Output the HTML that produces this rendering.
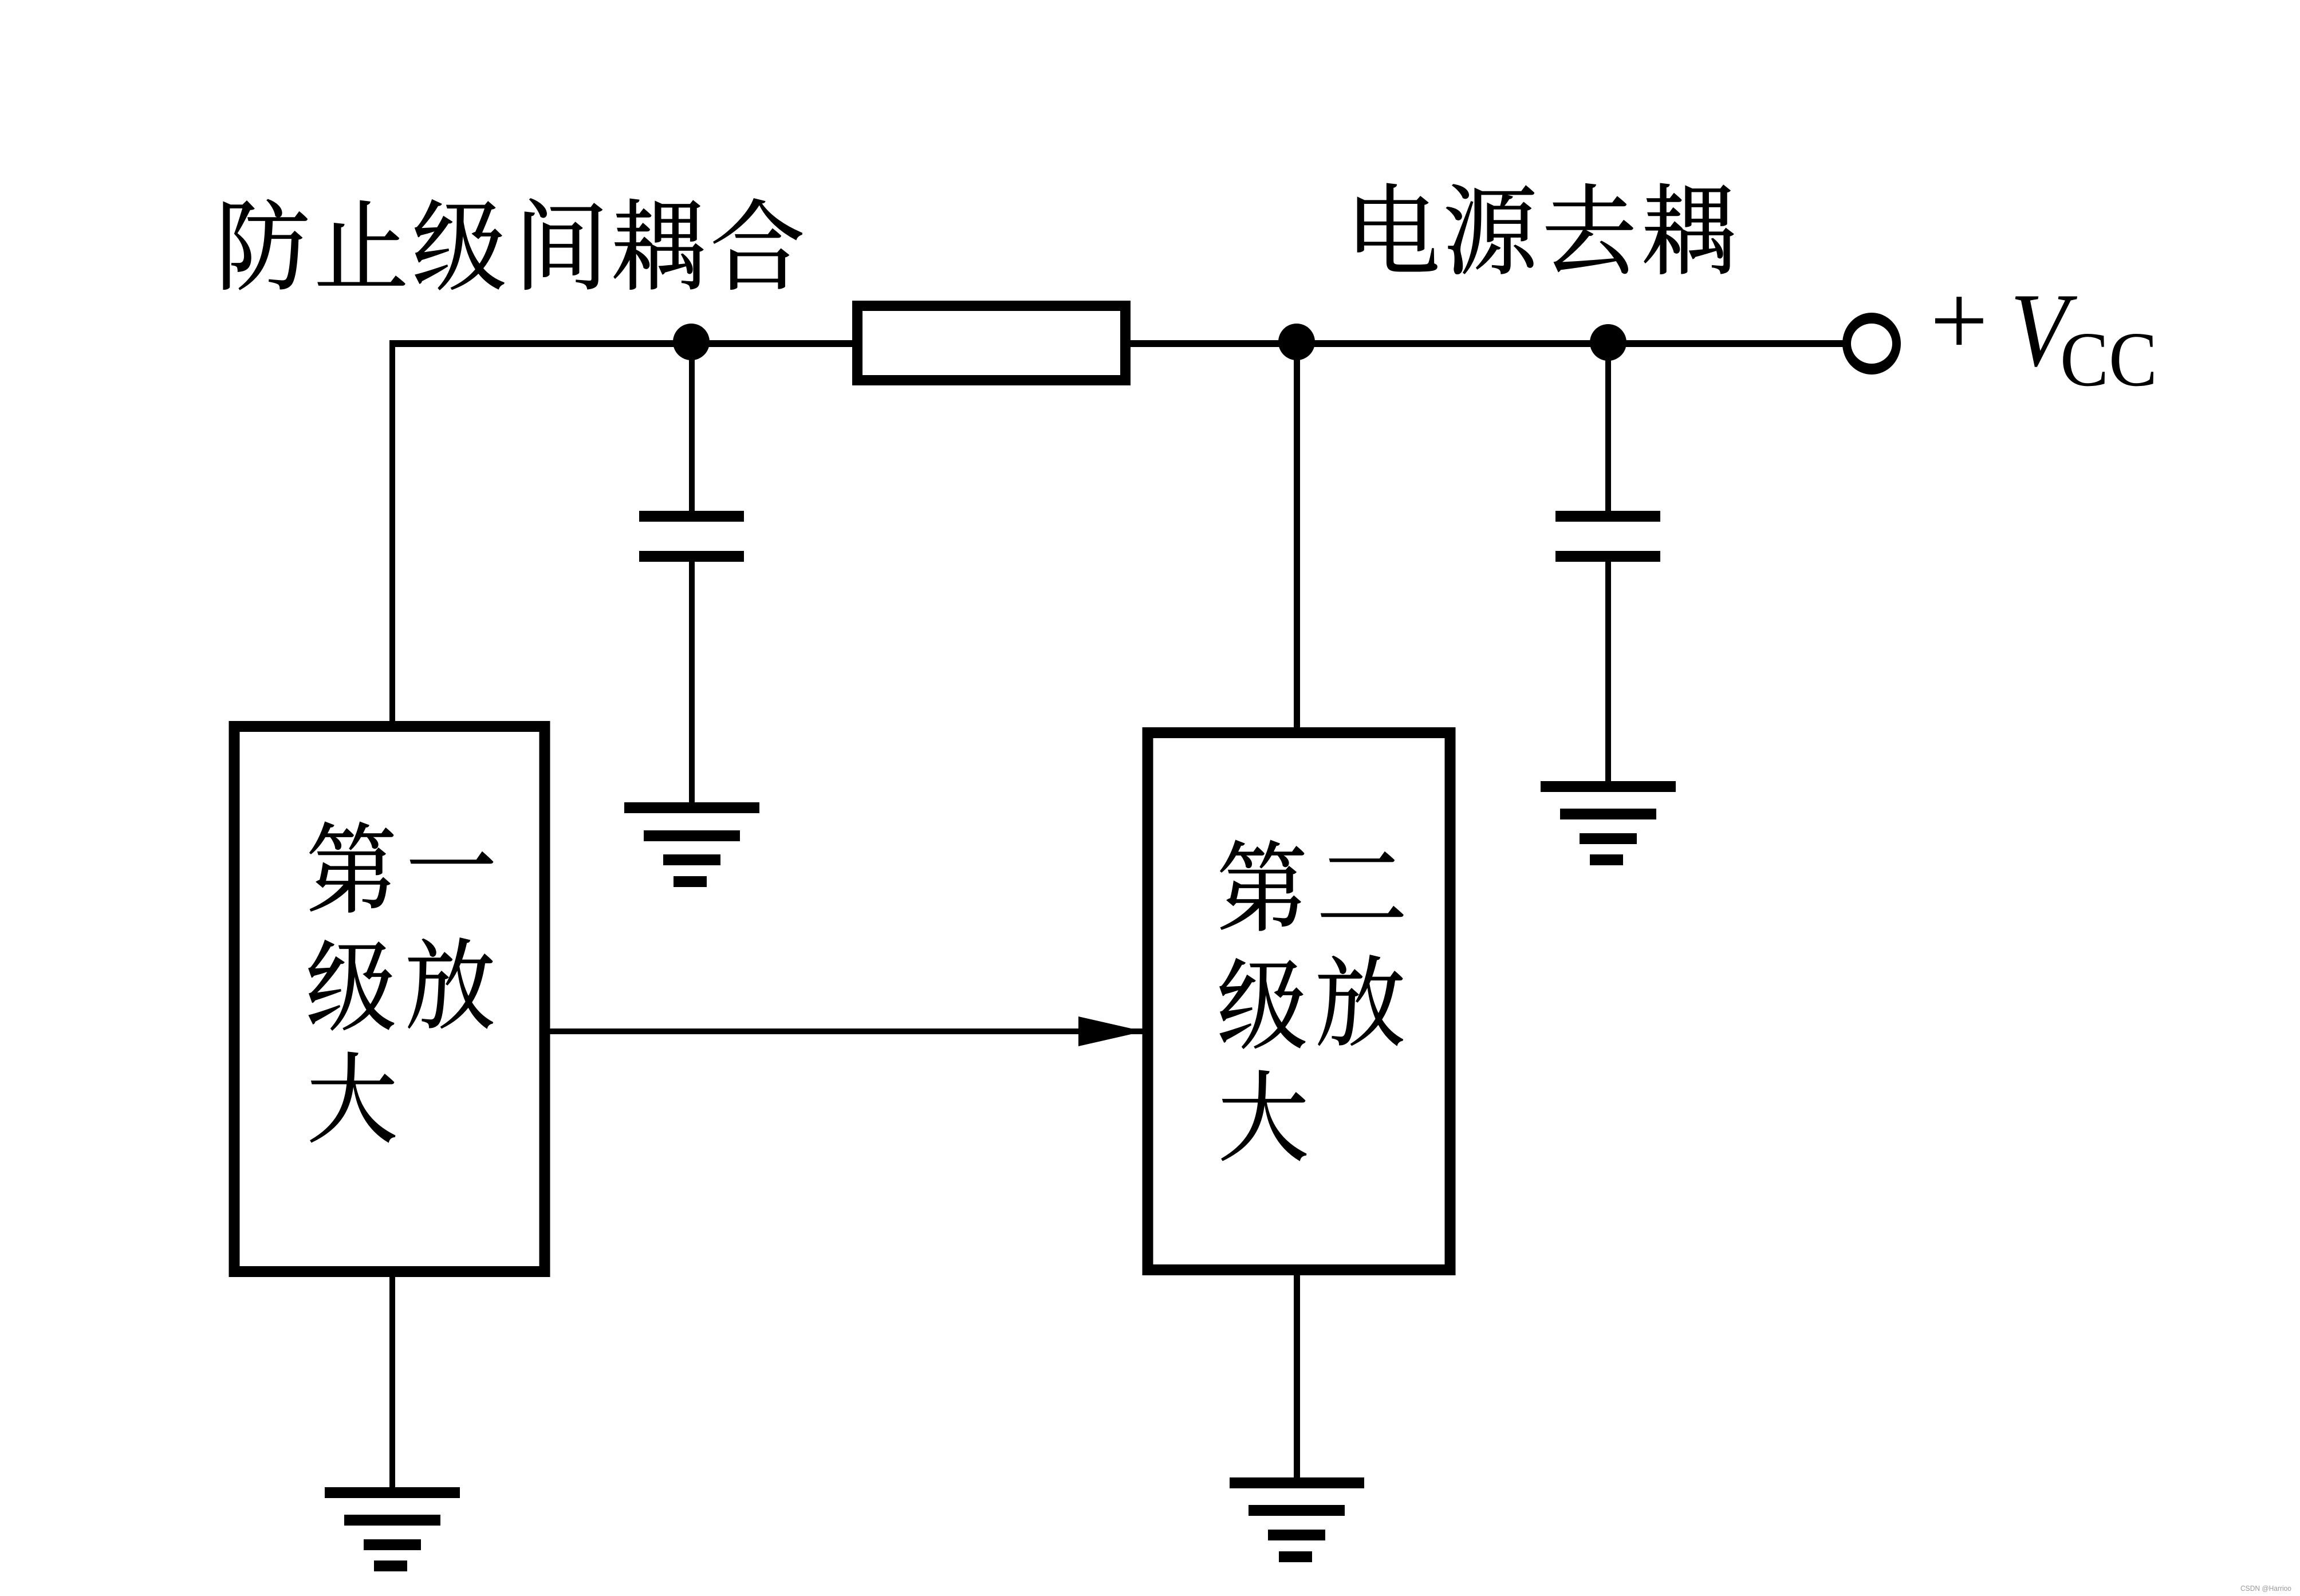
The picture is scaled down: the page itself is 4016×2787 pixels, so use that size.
<!DOCTYPE html>
<html lang="zh">
<head>
<meta charset="utf-8">
<title>电源去耦与防止级间耦合电路</title>
<style>
html,body{margin:0;padding:0;background:#fff;width:4016px;height:2787px;overflow:hidden}
svg{display:block}
.c{font-family:"Liberation Serif","Noto Serif CJK SC",serif;font-size:172px;fill:#000;stroke:#000;stroke-width:1.5px;text-anchor:middle}
</style>
</head>
<body>
<svg xmlns="http://www.w3.org/2000/svg" width="4016" height="2787" viewBox="0 0 4016 2787">
<rect width="4016" height="2787" fill="#fff"/>

<!-- wires -->
<g fill="#000">
<rect x="680" y="594" width="2590" height="12"/>
<rect x="680" y="594" width="10" height="670"/>
<rect x="1203" y="597" width="10" height="300"/>
<rect x="1203" y="975" width="10" height="430"/>
<rect x="2259" y="597" width="11" height="680"/>
<rect x="2803" y="597" width="10" height="300"/>
<rect x="2803" y="975" width="10" height="395"/>
<rect x="680" y="2225" width="10" height="376"/>
<rect x="2259" y="2222" width="11" height="362"/>
<rect x="955" y="1796" width="1045" height="10"/>
<path d="M1883 1775 L1997 1801 L1883 1827 Z"/>
</g>

<!-- resistor -->
<rect x="1497" y="534" width="468" height="130" fill="#fff" stroke="#000" stroke-width="18"/>

<!-- junction dots -->
<g fill="#000">
<circle cx="1207" cy="597" r="32"/>
<circle cx="2264" cy="597" r="32"/>
<circle cx="2808" cy="598" r="32"/>
</g>

<!-- terminal -->
<ellipse cx="3268" cy="600" rx="51" ry="54" fill="#000"/>
<ellipse cx="3268" cy="600" rx="36" ry="35" fill="#fff"/>

<!-- capacitor plates -->
<g fill="#000">
<rect x="1116" y="892" width="183" height="19"/>
<rect x="1116" y="962" width="183" height="19"/>
<rect x="2716" y="892" width="183" height="19"/>
<rect x="2716" y="962" width="183" height="19"/>
</g>

<!-- grounds -->
<g fill="#000">
<rect x="1090" y="1401" width="236" height="19"/>
<rect x="1124" y="1450" width="168" height="19"/>
<rect x="1158" y="1492" width="100" height="19"/>
<rect x="1176" y="1530" width="58" height="19"/>

<rect x="2690" y="1364" width="236" height="19"/>
<rect x="2724" y="1412" width="168" height="19"/>
<rect x="2758" y="1455" width="100" height="19"/>
<rect x="2776" y="1492" width="58" height="19"/>

<rect x="567" y="2597" width="236" height="19"/>
<rect x="601" y="2645" width="168" height="19"/>
<rect x="635" y="2688" width="100" height="19"/>
<rect x="653" y="2725" width="58" height="19"/>

<rect x="2147" y="2580" width="235" height="19"/>
<rect x="2180" y="2628" width="168" height="19"/>
<rect x="2214" y="2671" width="100" height="19"/>
<rect x="2233" y="2709" width="58" height="19"/>
</g>

<!-- amplifier boxes -->
<rect x="409" y="1268.500" width="542" height="952" fill="#fff" stroke="#000" stroke-width="19"/>
<rect x="2004" y="1279.500" width="528" height="938" fill="#fff" stroke="#000" stroke-width="19"/>

<!-- labels -->
<g>
<text class="c" transform="translate(459,492) scale(.96,1)">防</text>
<text class="c" transform="translate(631,492) scale(.96,1)">止</text>
<text class="c" transform="translate(802,492) scale(.96,1)">级</text>
<text class="c" transform="translate(980,492) scale(.96,1)">间</text>
<text class="c" transform="translate(1150,492) scale(.96,1)">耦</text>
<text class="c" transform="translate(1323,492) scale(.96,1)">合</text>

<text class="c" transform="translate(2432,465) scale(.96,1)">电</text>
<text class="c" transform="translate(2602,465) scale(.96,1)">源</text>
<text class="c" transform="translate(2775,465) scale(.96,1)">去</text>
<text class="c" transform="translate(2949,465) scale(.96,1)">耦</text>

<text class="c" transform="translate(614,1580) scale(.92,1)">第</text>
<text class="c" transform="translate(788,1576) scale(.92,1)">一</text>
<text class="c" transform="translate(613,1785) scale(.92,1)">级</text>
<text class="c" transform="translate(786,1782) scale(.92,1)">放</text>
<text class="c" transform="translate(615,1981) scale(.92,1)">大</text>

<text class="c" transform="translate(2204,1612) scale(.92,1)">第</text>
<text class="c" transform="translate(2378,1612) scale(.92,1)">二</text>
<text class="c" transform="translate(2204,1817) scale(.92,1)">级</text>
<text class="c" transform="translate(2375,1812) scale(.92,1)">放</text>
<text class="c" transform="translate(2206,2013) scale(.92,1)">大</text>
</g>

<!-- +Vcc -->
<text x="3370" y="620" font-family="'Liberation Serif',serif" font-size="180" fill="#000">+</text>
<text transform="translate(3510,638) scale(.9,1)" font-family="'Liberation Serif',serif" font-style="italic" font-size="184" fill="#000">V</text>
<text x="3597" y="673" font-family="'Liberation Serif',serif" font-size="136" fill="#000" textLength="170" lengthAdjust="spacingAndGlyphs">CC</text>

<!-- watermark -->
<text x="3912" y="2778" font-family="'Liberation Sans',sans-serif" font-size="13" fill="#999" textLength="89" lengthAdjust="spacingAndGlyphs">CSDN @Harrioo</text>
</svg>
</body>
</html>
